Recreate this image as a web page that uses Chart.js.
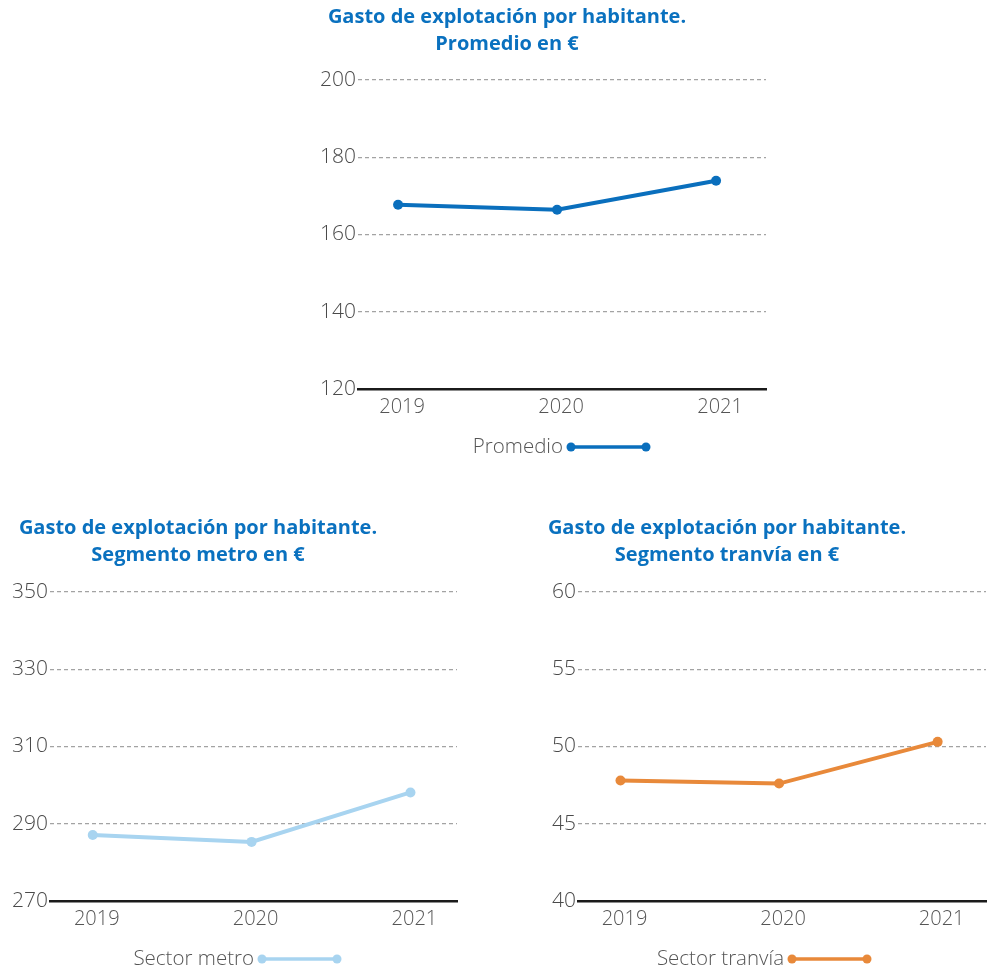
<!DOCTYPE html>
<html>
<head>
<meta charset="utf-8">
<script src="https://cdn.jsdelivr.net/npm/chart.js@4/dist/chart.umd.min.js"></script>
<style>
  html, body { margin: 0; padding: 0; background: #fff; }
  body { width: 987px; height: 974px; position: relative; overflow: hidden; }
  canvas { position: absolute; }
</style>
</head>
<body>
<canvas id="promedio" width="987" height="490" style="left:0;top:0"></canvas>
<canvas id="metro" width="490" height="484" style="left:0;top:490px"></canvas>
<canvas id="tranvia" width="530" height="484" style="left:490px;top:490px"></canvas>
<script>
// Years shown on every panel
const years = ['2019', '2020', '2021'];

// Operating expense per inhabitant (€)
const promedioValues = [167.7, 166.4, 173.9];
const metroValues = [287.1, 285.3, 298.1];
const tranviaValues = [47.8, 47.6, 50.3];

// Axis ranges and tick steps
const promedioTicks = [120, 140, 160, 180, 200];
const metroTicks = [270, 290, 310, 330, 350];
const tranviaTicks = [40, 45, 50, 55, 60];

// Titles and legend labels
const promedioTitle = ['Gasto de explotación por habitante.', 'Promedio en €'];
const metroTitle = ['Gasto de explotación por habitante.', 'Segmento metro en €'];
const tranviaTitle = ['Gasto de explotación por habitante.', 'Segmento tranvía en €'];
const promedioLabel = 'Promedio';
const metroLabel = 'Sector metro';
const tranviaLabel = 'Sector tranvía';

const FAMILY = '"Open Sans", Lato, sans-serif';
const LIGHT = '300 20.5px ' + FAMILY;
const TITLE_FONT = '700 20px ' + FAMILY;
const TITLE_COLOR = '#0a71bf';

// Draws the two-line title and the "label ●——●" legend for each panel
const panelDecor = {
  id: 'panelDecor',
  afterDraw(chart, args, opts) {
    const ctx = chart.ctx;
    ctx.save();
    ctx.font = TITLE_FONT;
    ctx.fillStyle = TITLE_COLOR;
    ctx.textAlign = 'center';
    ctx.textBaseline = 'middle';
    opts.title.forEach((line, i) => ctx.fillText(line, opts.titleX, opts.titleY + i * 27));

    const ds = chart.data.datasets[0];
    ctx.font = LIGHT;
    ctx.fillStyle = '#555';
    ctx.textAlign = 'right';
    const start = opts.markerX;
    const end = start + 75;
    ctx.fillText(ds.label, start - 8, opts.legendY);
    ctx.strokeStyle = ds.borderColor;
    ctx.fillStyle = ds.borderColor;
    ctx.lineWidth = 3.5;
    ctx.beginPath();
    ctx.moveTo(start, opts.legendY);
    ctx.lineTo(end, opts.legendY);
    ctx.stroke();
    [start, end].forEach(x => {
      ctx.beginPath();
      ctx.arc(x, opts.legendY, 4.5, 0, Math.PI * 2);
      ctx.fill();
    });
    ctx.restore();
  }
};

function makePanel(id, cfg) {
  const yt = cfg.yTicks;
  return new Chart(document.getElementById(id), {
    type: 'line',
    data: {
      datasets: [{
        label: cfg.label,
        data: cfg.values.map((v, i) => ({ x: Number(years[i]), y: v })),
        borderColor: cfg.color,
        backgroundColor: cfg.color,
        borderWidth: 4,
        pointRadius: 5,
        pointBorderWidth: 0,
        pointHoverRadius: 5,
        tension: 0
      }]
    },
    plugins: [panelDecor],
    options: {
      responsive: false,
      animation: false,
      events: [],
      layout: { padding: cfg.padding },
      plugins: {
        legend: { display: false },
        tooltip: { enabled: false },
        title: { display: false },
        panelDecor: cfg.decor
      },
      scales: {
        x: {
          type: 'linear',
          min: cfg.xMin,
          max: cfg.xMax,
          afterFit: s => { s.height = 40; },
          afterBuildTicks: s => { s.ticks = years.map(y => ({ value: Number(y) })); },
          grid: { display: false, drawTicks: false },
          border: { display: true, color: '#1b1b1b', width: 2.5 },
          ticks: {
            callback: v => String(v),
            color: '#555',
            font: { family: FAMILY, size: 20, weight: '300' },
            padding: 6,
            labelOffset: 4,
            maxRotation: 0
          }
        },
        y: {
          min: yt[0],
          max: yt[yt.length - 1],
          afterFit: s => { s.width = cfg.yWidth; },
          afterBuildTicks: s => { s.ticks = yt.map(v => ({ value: v })); },
          border: { display: false, dash: [4, 3] },
          grid: {
            drawTicks: false,
            color: c => c.index === 0 ? 'rgba(0,0,0,0)' : '#a3a3a3',
            lineWidth: 1.2
          },
          ticks: {
            color: '#4a4a4a',
            font: { family: FAMILY, size: 21, weight: '300' },
            padding: 2
          }
        }
      }
    }
  });
}

makePanel('promedio', {
  label: promedioLabel, values: promedioValues, color: '#0a6fbd', yTicks: promedioTicks,
  xMin: 2018.748, xMax: 2021.314, yWidth: 60,
  padding: { left: 298, right: 221, top: 80, bottom: 61 },
  decor: { title: promedioTitle, titleX: 507, titleY: 17, markerX: 571, legendY: 447 }
});

makePanel('metro', {
  label: metroLabel, values: metroValues, color: '#a8d4f0', yTicks: metroTicks,
  xMin: 2018.731, xMax: 2021.293, yWidth: 48,
  padding: { left: 2, right: 33, top: 102, bottom: 33 },
  decor: { title: metroTitle, titleX: 198, titleY: 38, markerX: 262, legendY: 469 }
});

makePanel('tranvia', {
  label: tranviaLabel, values: tranviaValues, color: '#e8893a', yTicks: tranviaTicks,
  xMin: 2018.732, xMax: 2021.305, yWidth: 48,
  padding: { left: 40, right: 34, top: 102, bottom: 33 },
  decor: { title: tranviaTitle, titleX: 237, titleY: 38, markerX: 302, legendY: 469 }
});
</script>
</body>
</html>
